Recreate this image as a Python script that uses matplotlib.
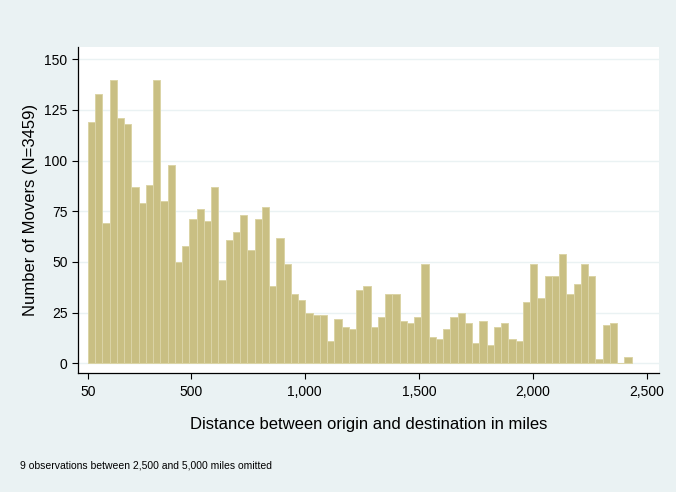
import numpy as np
import matplotlib
matplotlib.use("Agg")
import matplotlib.pyplot as plt
from matplotlib.ticker import FuncFormatter

# counts per bin (sum = 3450, 9 obs > 2,500 omitted)
counts = [119, 133, 69, 140, 121, 118, 87, 79, 88, 140,
          80, 98, 50, 58, 71, 76, 70, 87, 41, 61,
          65, 73, 56, 71, 77, 38, 62, 49, 34, 31,
          25, 24, 24, 11, 22, 18, 17, 36, 38, 18,
          23, 34, 34, 21, 20, 23, 49, 13, 12, 17,
          23, 25, 20, 10, 21, 9, 18, 20, 12, 11,
          30, 49, 32, 43, 43, 54, 34, 39, 49, 43,
          2, 19, 20, 0, 3]
bin_start = 50
bin_width = 31.77

x_ticks = [50, 500, 1000, 1500, 2000, 2500]
y_ticks = [0, 25, 50, 75, 100, 125, 150]

bg = "#eaf2f3"
bar_fill = "#c9bf83"
bar_edge = "#dbd4a6"

plt.rcParams['font.family'] = ['Liberation Sans', 'DejaVu Sans']

fig = plt.figure(figsize=(6.76, 4.92), dpi=100, facecolor=bg)
ax = fig.add_axes([78 / 676, 1 - 373 / 492, 581 / 676, 326.3 / 492])
ax.set_facecolor("white")

lefts = bin_start + bin_width * np.arange(len(counts))
ax.bar(lefts, counts, width=bin_width, align="edge",
       color=bar_fill, edgecolor=bar_edge, linewidth=0.7, zorder=2)

ax.set_xlim(6.2, 2552.6)
ax.set_ylim(-4.8, 156.2)

ax.set_xticks(x_ticks)
ax.xaxis.set_major_formatter(FuncFormatter(lambda v, p: f"{int(v):,}"))
ax.set_yticks(y_ticks)
ax.yaxis.grid(True, color=bg, linewidth=1.0, zorder=0)
ax.set_axisbelow(True)

ax.tick_params(axis="both", direction="out", length=4.5, width=0.8,
               labelsize=10, colors="black")
ax.tick_params(axis="x", pad=4)
ax.tick_params(axis="y", pad=3)

for s in ["top", "right"]:
    ax.spines[s].set_visible(False)
for s in ["left", "bottom"]:
    ax.spines[s].set_color("black")
    ax.spines[s].set_linewidth(0.9)

ax.set_xlabel("Distance between origin and destination in miles",
              fontsize=12, va="center")
ax.xaxis.set_label_coords(0.5, (373 - 425) / 326.3)
ax.set_ylabel("Number of Movers (N=3459)", fontsize=12, va="center")
ax.yaxis.set_label_coords((31 - 78) / 581, 0.5)

fig.text(20 / 676, 1 - 465 / 492,
         "9 observations between 2,500 and 5,000 miles omitted",
         fontsize=7.5, va="center", ha="left")

fig.savefig("out.png", dpi=100, facecolor=bg)
